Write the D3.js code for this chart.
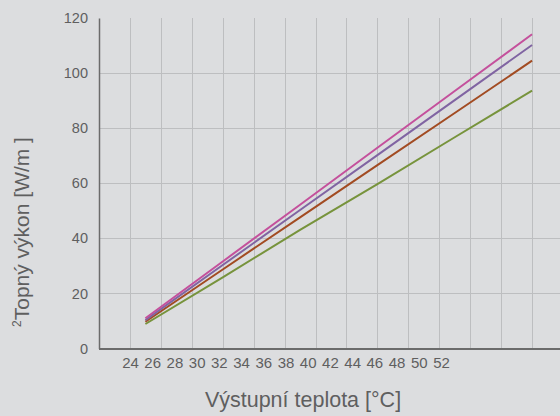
<!DOCTYPE html>
<html>
<head>
<meta charset="utf-8">
<script src="https://cdn.jsdelivr.net/npm/d3@7"></script>
<style>
  body { margin: 0; background: #dcdddf; }
  svg { display: block; font-family: "Liberation Sans", Arial, sans-serif; }
</style>
</head>
<body>
<svg id="chart" width="560" height="416"></svg>
<script>
// outlet temperature [°C] at which the values were read
let temps = [25, 30, 35, 40, 45, 50];
// heating output [W/m2], one array per curve
let pinkSeries = [11.0, 31.6, 52.2, 72.9, 93.5, 114.1];
let purpleSeries = [10.3, 30.3, 50.3, 70.2, 90.2, 110.2];
let brownSeries = [9.7, 28.7, 47.6, 66.6, 85.5, 104.5];
let greenSeries = [8.9, 25.8, 43.1, 59.7, 76.7, 93.6];
// tick labels
let xTickLabels = [24, 26, 28, 30, 32, 34, 36, 38, 40, 42, 44, 46, 48, 50, 52];
let xGridValues = [24, 26, 28, 30, 32, 34, 36, 38, 40, 42, 44, 46, 48, 50];
let yTicks = [0, 20, 40, 60, 80, 100, 120];

let series = [
    { values: greenSeries, color: "#77933c" },
    { values: brownSeries, color: "#a24b22" },
    { values: purpleSeries, color: "#8064a2" },
    { values: pinkSeries, color: "#c4509c" }
];

let svg = d3.select("#chart");
let w = 560, h = 416;
let plotLeft = 99, plotTop = 18, plotBottom = 348.5;

svg.append("rect").attr("width", w).attr("height", h).attr("fill", "#dcdddf");

// scales
let xScale = d3.scaleLinear().domain([22, 52]).range([plotLeft, 563]);
let yScale = d3.scaleLinear().domain([0, 120]).range([plotBottom, plotTop]);
// the category labels do not sit on the grid in the original
let labelScale = d3.scaleLinear().domain([24, 52]).range([130, 441]);

// grid
let grid = svg.append("g").attr("class", "grid")
    .attr("stroke", "#bdbec0").attr("stroke-width", 1);
grid.selectAll("line.v")
    .data(xGridValues)
    .enter().append("line")
    .attr("class", "v")
    .attr("x1", d => Math.round(xScale(d)) + 0.5)
    .attr("x2", d => Math.round(xScale(d)) + 0.5)
    .attr("y1", plotTop).attr("y2", plotBottom);
grid.selectAll("line.h")
    .data(yTicks.filter(d => d > 0 && d < 120))
    .enter().append("line")
    .attr("class", "h")
    .attr("x1", plotLeft).attr("x2", w)
    .attr("y1", d => Math.round(yScale(d)) + 0.5)
    .attr("y2", d => Math.round(yScale(d)) + 0.5);

// axes
let yAxis = svg.append("g")
    .attr("transform", `translate(${plotLeft},0)`)
    .call(d3.axisLeft(yScale).tickValues(yTicks).tickSize(0).tickSizeOuter(0).tickPadding(11));
yAxis.select(".domain").attr("stroke", "#6b6b6b").attr("stroke-width", 1.5);
yAxis.selectAll("text")
    .attr("font-size", "14.5px").attr("fill", "#5f5f5f")
    .attr("font-family", "Liberation Sans, Arial, sans-serif");

svg.append("line")
    .attr("x1", plotLeft).attr("x2", w)
    .attr("y1", plotBottom + 0.5).attr("y2", plotBottom + 0.5)
    .attr("stroke", "#6b6b6b").attr("stroke-width", 2);

let xAxis = svg.append("g")
    .attr("transform", `translate(0,${plotBottom})`)
    .call(d3.axisBottom(labelScale).tickValues(xTickLabels).tickSize(0).tickPadding(9));
xAxis.select(".domain").remove();
xAxis.selectAll("text")
    .attr("font-size", "15px").attr("fill", "#5f5f5f")
    .attr("font-family", "Liberation Sans, Arial, sans-serif");

// series
let line = d3.line()
    .x((d, i) => xScale(temps[i]))
    .y(d => yScale(d));
svg.append("g").selectAll("path")
    .data(series)
    .enter().append("path")
    .attr("d", d => line(d.values))
    .attr("fill", "none")
    .attr("stroke", d => d.color)
    .attr("stroke-width", 2);

// labels
svg.append("text")
    .text("Výstupní teplota [°C]")
    .attr("x", 303).attr("y", 407)
    .attr("text-anchor", "middle")
    .attr("font-size", "21.5px").attr("fill", "#5f5f5f");

let yLabel = svg.append("text")
    .attr("transform", `translate(29,232) rotate(-90)`)
    .attr("text-anchor", "middle")
    .attr("font-size", "21px").attr("fill", "#5f5f5f");
yLabel.append("tspan").text("2").attr("font-size", "12px").attr("dy", "-8");
yLabel.append("tspan").text("Topný výkon [W/m ]").attr("dy", "8");
</script>
</body>
</html>
